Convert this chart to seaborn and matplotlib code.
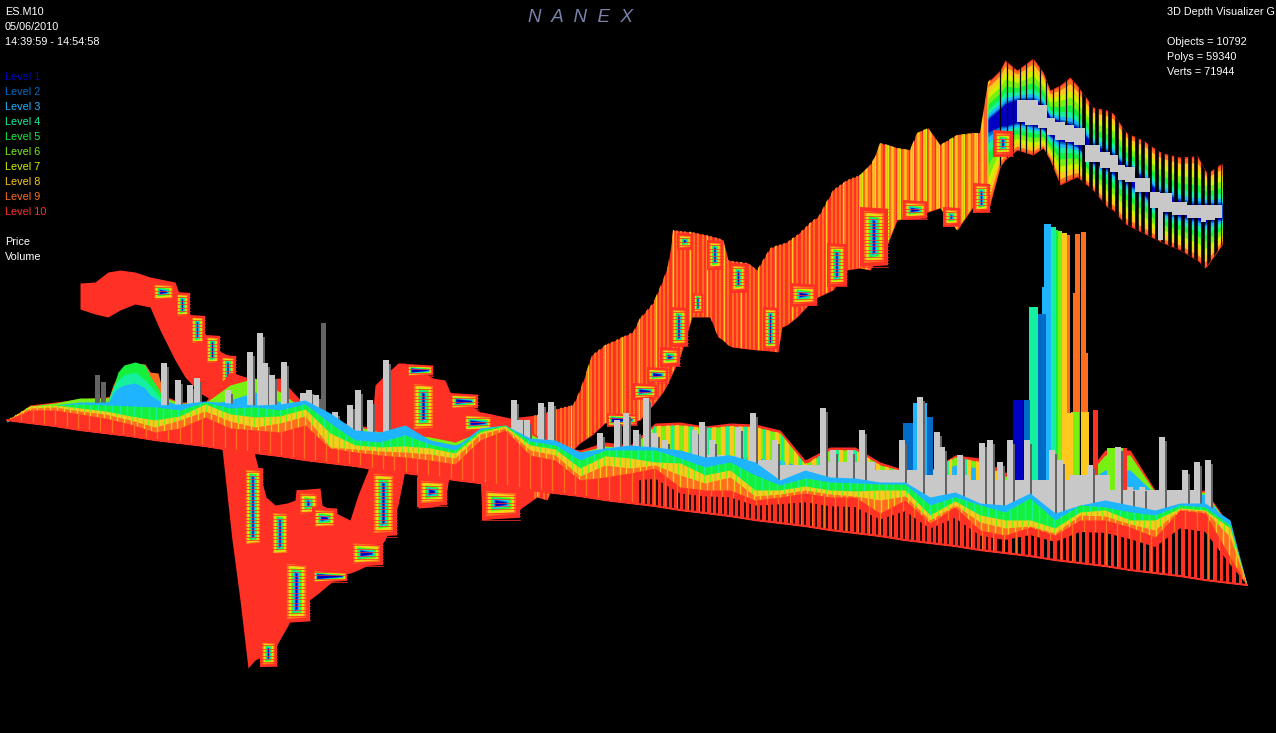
import matplotlib
matplotlib.use('Agg')
import matplotlib.pyplot as plt
import numpy as np
import pandas as pd
import seaborn as sns

sns.set_theme(style='dark', rc={'axes.facecolor': 'black', 'figure.facecolor': 'black', 'savefig.facecolor': 'black'})
plt.rcParams['font.family'] = ['Liberation Sans', 'DejaVu Sans']

level_names = ['Level 1', 'Level 2', 'Level 3', 'Level 4', 'Level 5', 'Level 6', 'Level 7', 'Level 8', 'Level 9', 'Level 10']
level_colors = ['#0000C4', '#006CC8', '#1EB4FF', '#14F0A0', '#14F03C', '#78F014', '#D2F000', '#FFC81E', '#FF6E1E', '#FF3024']
header_lines = ['ES.M10', '05/06/2010', '14:39:59 - 14:54:58']
stats_lines = ['3D Depth Visualizer G', '', 'Objects = 10792', 'Polys = 59340', 'Verts = 71944']

# price ribbon (screen px)
ribbon_x = [80,95,108,120,135,150,160,175,185,200,217,232,240,248,255,266,275,287,295,296,320,322,340,350,358,368,375,385,398,405,417,418,433,445,450,480,482,510,537,547,560,573,580,592,605,633,640,653,663,668,673,680,692,710,718,723,728,732,748,757,770,778,782,787,797,813,818,833,847,860,870,875,880,888,897,910,917,928,940,957,973,980,988,1000,1005,1017,1033,1043,1050,1060,1070,1077,1093,1107,1113,1123,1127,1143,1157,1163,1180,1193,1197,1205,1207,1222]
ribbon_top = [283,282,272,270,272,277,279,282,310,327,350,357,393,420,456,497,505,503,500,490,488,505,515,520,495,470,385,375,363,363,370,370,378,380,392,412,412,418,415,412,408,405,390,355,345,332,318,303,280,265,230,231,232,236,238,240,260,261,263,270,248,245,244,242,235,220,217,190,180,175,165,157,143,145,148,150,133,128,145,135,133,133,82,70,60,70,58,72,90,85,77,85,107,110,113,128,133,140,150,153,157,156,155,170,173,163]
ribbon_bot = [309,314,317,310,304,307,330,360,377,393,403,540,600,668,660,655,648,627,612,610,592,590,575,573,570,565,552,540,505,470,470,508,507,503,470,470,520,516,497,500,470,450,443,435,423,422,420,405,392,383,372,357,317,317,337,340,345,347,349,350,351,352,327,325,317,300,297,290,270,268,270,262,255,243,220,218,216,212,208,230,207,208,212,167,160,150,155,148,160,185,180,177,190,207,210,222,225,233,240,243,250,258,260,268,266,245]

# grey price line on the last part of the ribbon
price_x = [988,1000,1005,1017,1033,1043,1050,1060,1070,1077,1093,1107,1113,1123,1127,1143,1157,1163,1180,1193,1197,1205,1207,1222]
price_top = [120,110,105,100,100,105,118,122,125,128,145,152,155,165,167,178,192,193,202,205,205,205,205,205]
price_bot = [130,125,125,122,125,128,135,140,142,145,162,168,172,180,182,192,208,212,215,218,218,222,220,218]
price_wick_x = [1160]
price_wick_top = [193]
price_wick_bot = [240]

# nested order boxes seen along the ribbon
box_left = [152,175,190,205,220,243,270,297,312,283,260,313,350,370,417,407,410,450,463,482,607,633,647,660,670,693,707,730,677,763,790,827,860,903,943,973,993]
box_right = [175,190,205,220,236,263,290,320,337,310,277,347,383,397,447,433,437,478,493,520,637,657,668,680,688,703,723,747,693,778,817,847,888,927,960,990,1013]
box_top = [282,292,315,335,355,467,510,490,507,560,640,570,540,470,477,364,380,393,413,487,413,383,367,347,307,293,240,263,233,307,283,243,207,200,207,183,130]
box_bot = [302,318,345,365,392,547,557,517,530,623,667,583,567,537,507,377,433,410,433,520,427,400,383,367,347,313,270,293,250,350,307,287,267,220,227,213,157]

# depth surface stations
surface_x = [7,30,55,80,105,130,155,180,205,230,255,280,305,330,355,380,405,430,455,480,505,530,555,580,605,630,655,680,705,730,755,780,805,830,855,880,905,930,955,980,1005,1030,1055,1080,1105,1130,1155,1180,1205,1230,1247]
surface_floor = [420,423,426,430,433,436,440,443,446,450,453,456,460,463,466,470,473,476,480,483,486,490,493,496,500,503,506,510,513,516,520,523,526,530,533,536,540,543,546,550,553,556,560,563,566,570,573,576,580,583,585]
front_blue = [421,408,406,403,402,402,405,404,401,403,405,404,400,413,430,432,425,440,447,428,425,438,440,452,448,445,447,450,457,455,462,480,470,477,478,482,482,497,492,503,505,493,513,505,500,505,510,503,503,520,585]
front_green = [421,407,405,404,405,406,407,410,402,408,407,410,404,423,440,442,435,444,450,430,425,441,445,460,450,450,450,458,467,462,475,485,478,482,483,484,484,505,497,505,512,498,520,505,507,512,515,505,507,525,585]
front_yellow = [420,406,405,408,411,416,420,416,404,414,417,416,409,433,445,447,446,448,453,432,426,445,449,468,456,458,462,463,475,470,490,490,486,490,491,490,490,515,501,515,520,520,528,512,510,520,520,508,510,528,585]
front_orange = [420,408,407,411,414,420,427,420,411,421,427,423,416,447,449,451,452,454,458,434,428,450,455,476,465,468,465,475,483,477,496,494,490,494,496,500,496,520,505,522,528,526,533,515,516,524,530,509,511,537,585]
front_red = [420,410,410,414,418,424,432,428,417,428,430,432,425,448,452,455,457,460,464,440,430,455,460,480,477,473,468,487,490,490,500,497,493,497,497,513,500,523,507,530,535,527,535,520,520,527,537,510,513,557,585]
back_warm = [421,405,402,399,397,392,392,402,402,372,380,378,405,422,424,430,432,435,440,430,427,432,445,450,442,445,423,422,426,423,424,430,460,447,447,462,470,470,455,458,472,482,482,482,450,450,490,492,490,526,585]
back_green = [422,406,403,398,398,394,394,403,403,385,378,392,410,425,426,432,434,437,442,432,428,434,446,452,446,448,426,425,428,426,427,433,464,450,450,465,472,472,457,462,476,484,484,484,455,455,492,494,492,527,585]
back_blue = [422,408,405,402,402,398,398,405,405,400,392,402,418,430,432,436,438,440,445,436,432,438,448,454,448,452,450,452,455,455,458,460,468,462,462,470,476,476,465,468,480,486,486,486,470,470,494,496,494,528,585]

# green hump at the far left
hump_x = [108,113,118,124,135,145,150,158,165]
hump_warm = [400,385,375,366,363,364,372,373,400]
hump_lime = [400,388,372,365,362,365,376,388,402]
hump_teal = [402,388,380,375,372,380,385,395,404]
hump_blue = [404,393,388,385,383,388,395,400,405]

# volume bars
volume_x = [97,103,164,178,190,197,228,250,260,265,272,284,303,309,316,323,335,350,358,370,386,514,520,527,541,551,600,617,626,636,646,655,665,695,702,712,738,753,775,823,833,850,862,902,920,937,942,960,982,990,1000,1010,1027,1052,1060,1090,1118,1130,1142,1162,1185,1197,1208]
volume_top = [375,382,363,380,385,378,390,352,333,363,375,362,393,390,395,323,412,405,390,400,360,400,420,420,403,402,433,420,413,430,398,433,440,430,422,440,427,413,440,408,450,450,430,440,397,432,447,455,443,440,462,440,440,450,460,465,447,487,487,437,470,462,460]
dark_bars = [97,103,323]
volume_base_x = [650,700,750,800,850,900,940,1000,1050,1090,1130,1150,1200]
volume_base_top = [452,455,460,465,462,470,475,480,480,475,490,490,490]
volume_base_low = [498,505,512,518,525,532,537,545,552,557,562,565,572]

# big resting-order towers around the 1050 spike
tower_level = [3,9,9,9,9,9,8,6,5,4,3,2,4,2,1,10,8,6,8,10,6,2,2,3]
tower_x = [1046,1076,1084,1083,1077,1068,1064,1059,1056,1053,1047,1041,1033,1027,1018,1095,1085,1075,1068,1124,1115,909,928,920]
tower_w = [9,7,7,5,5,4,6,5,4,5,7,9,9,6,10,5,8,8,10,6,16,13,9,14]
tower_top = [287,293,353,232,234,235,233,231,230,227,224,314,307,400,400,410,412,412,413,448,448,423,417,403]

fig = plt.figure(figsize=(12.76, 7.33), dpi=100)
ax = fig.add_axes([0, 0, 1, 1])

ribbon_x = np.array(ribbon_x, float)
ribbon_top = np.array(ribbon_top, float)
ribbon_bot = np.array(ribbon_bot, float)

def stripes(clip, xs, color, lw, z):
    ln = ax.vlines(xs, 0, 733, color=color, lw=lw, zorder=z)
    ln.set_clip_path(clip, ax.transData)

# ribbon base and its wire stripes, clipped to the ribbon shape
shape = ax.fill_between(ribbon_x, ribbon_top, ribbon_bot, color=level_colors[9], lw=0, zorder=1)
rib_clip = shape.get_paths()[0]
stripes(rib_clip, np.arange(535, 860, 4.3), level_colors[8], 1.5, 1.1)
stripes(rib_clip, np.arange(537, 860, 17), level_colors[7], 1.0, 1.2)
stripes(rib_clip, np.arange(860, 990, 4.3), level_colors[8], 1.8, 1.1)
stripes(rib_clip, np.arange(860, 990, 6.4), level_colors[7], 1.8, 1.2)
stripes(rib_clip, np.arange(862, 990, 12.8), level_colors[6], 0.8, 1.3)

# last part: levels close in on the grey price line
n = len(price_x)
px = ribbon_x[-n:]
insets = [.04, .14, .28, .42, .58, .72, .84, .92, .97]
for lvl, f in zip([8, 7, 6, 5, 4, 3, 2, 1, 0], insets):
    t = ribbon_top[-n:] + f * (np.array(price_top) - ribbon_top[-n:])
    b = ribbon_bot[-n:] - f * (ribbon_bot[-n:] - np.array(price_bot))
    ax.fill_between(px, t, b, color=level_colors[lvl], lw=0, zorder=1.4)

stripes(rib_clip, np.arange(1084, 1224, 6.6), 'black', 2.6, 1.5)
stripes(rib_clip, np.arange(1000, 1084, 6.6), 'black', 0.9, 1.5)
ax.fill_between(px[3:], price_top[3:], price_bot[3:], step='mid', color='#C8C8C8', lw=0, zorder=1.6)
ax.bar(price_wick_x, np.subtract(price_wick_bot, price_wick_top), bottom=price_wick_top, width=5, color='#C8C8C8', lw=0, zorder=1.6)

# nested boxes, edges lean in a little like the perspective does
for l, r, t, b in zip(box_left, box_right, box_top, box_bot):
    s = 0.06 * (r - l)
    half = min(r - l, b - t - 2 * s) / 2
    for k in range(10):
        d = half * (k / 10) ** 0.55
        ax.fill([l + d, r - d, r - d, l + d], [t + d, t + d + s, b - d - s, b - d], color=level_colors[9 - k], lw=0, zorder=1.7)
    for y in np.arange(t + 2, b, 3.4):
        ax.plot([l, r], [y, y], color=level_colors[9], lw=0.7, alpha=0.75, zorder=1.85)

# back of the book
floor = np.array(surface_floor, float)
for vals, lvl, streak in [(back_warm, 9, None), (back_green, 5, 7), (back_blue, 2, None)]:
    band = ax.fill_between(surface_x, vals, floor, color=level_colors[lvl], lw=0, zorder=2)
    if streak is not None:
        stripes(band.get_paths()[0], np.arange(650, 1000, 9.1), level_colors[streak], 3.0, 2.01)
        stripes(band.get_paths()[0], np.arange(654, 1000, 18.3), level_colors[3], 2.0, 2.02)
for vals, lvl in [(hump_warm, 8), (hump_lime, 4), (hump_teal, 3), (hump_blue, 2)]:
    ax.fill_between(hump_x, vals, 430, color=level_colors[lvl], lw=0, zorder=2.1)

# towers, tallest first
for lv, x, w, t in zip(tower_level, tower_x, tower_w, tower_top):
    ax.bar(x, 490 - t, bottom=t, width=w, color=level_colors[lv - 1], lw=0, zorder=2.2)

# volume
ax.fill_between(volume_base_x, volume_base_top, volume_base_low, step='mid', color='#C8C8C8', lw=0, zorder=2.4)
for x, t in zip(volume_x, volume_top):
    base = floor[np.searchsorted(surface_x, x) - 1]
    if x in dark_bars:
        ax.bar(x, base - t, bottom=t, width=5, color='#646464', lw=0, zorder=2.5)
    else:
        ax.bar(x + 3, base - t - 4, bottom=t + 4, width=3, color='#646464', lw=0, zorder=2.5)
        ax.bar(x, base - t, bottom=t, width=5.5, color='#C8C8C8', lw=0, zorder=2.6)

# front of the book, with streaks of the neighbouring level on some layers
front_layers = [(front_blue, 2, None, 0), (front_green, 4, 3, 7.3), (front_yellow, 7, 5, 5.3), (front_orange, 8, 7, 6.7), (front_red, 9, 8, 11.3)]
for i, (vals, lvl, streak, step) in enumerate(front_layers):
    band = ax.fill_between(surface_x, vals, floor, color=level_colors[lvl], lw=0, zorder=3 + i * 0.1)
    if streak is not None:
        stripes(band.get_paths()[0], np.arange(10, 1247, step), level_colors[streak], 1.0, 3.05 + i * 0.1)

# wire gaps near the front edge
red = np.array(front_red, float)
gap = ax.fill_between(surface_x, floor - 0.72 * (floor - red), floor, color='none', lw=0, zorder=3.6)
stripes(gap.get_paths()[0], np.arange(640, 1000, 5.5), 'black', 1.2, 3.7)
stripes(gap.get_paths()[0], np.arange(1000, 1247, 6.4), 'black', 2.2, 3.7)

edge = pd.DataFrame({'x': surface_x, 'y': surface_floor})
sns.lineplot(data=edge, x='x', y='y', color=level_colors[9], lw=1.5, estimator=None, sort=False, ax=ax, zorder=3.9)

ax.set_xlim(0, 1276)
ax.set_ylim(733, 0)
ax.axis('off')

for i, s in enumerate(header_lines):
    ax.text(5, 12 + 15 * i, s, color='white', fontsize=7.8, va='center')
for i, s in enumerate(level_names):
    ax.text(5, 77 + 15 * i, s, color=level_colors[i], fontsize=7.8, va='center')
ax.text(5, 242, 'Price', color='white', fontsize=7.8, va='center')
ax.text(5, 257, 'Volume', color='white', fontsize=7.8, va='center')
for i, s in enumerate(stats_lines):
    ax.text(1167, 12 + 15 * i, s, color='white', fontsize=7.8, va='center')
ax.text(580, 17, 'N  A  N  E  X', color='#7A82AA', fontsize=13.5, style='italic', ha='center', va='center')

fig.savefig('out.png', dpi=100)
